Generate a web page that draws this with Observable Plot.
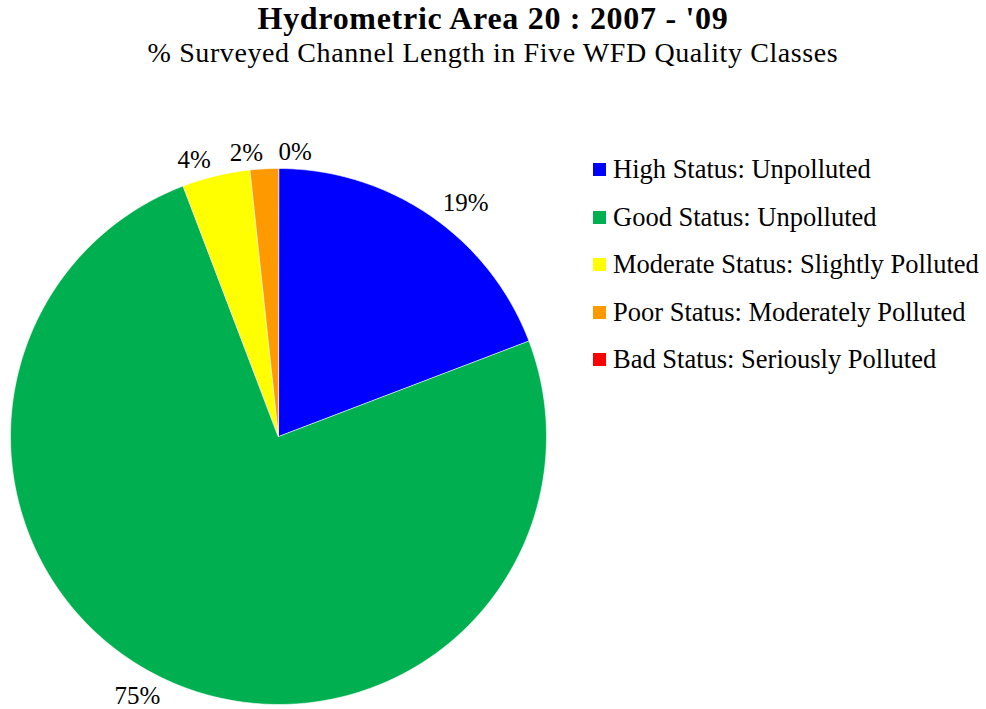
<!DOCTYPE html>
<html>
<head>
<meta charset="utf-8">
<script src="https://cdn.jsdelivr.net/npm/d3@7"></script>
<script src="https://cdn.jsdelivr.net/npm/@observablehq/plot@0.6"></script>
<style>
  html, body { margin: 0; padding: 0; background: #fff; }
  #wrap { position: relative; width: 986px; height: 709px; font-family: "Liberation Serif", "Times New Roman", serif; color: #000; overflow: hidden; }
  #title { position: absolute; left: 0; width: 986px; top: 2px; text-align: center; font-weight: bold; font-size: 32px; line-height: 32px; letter-spacing: 0.7px; white-space: nowrap; }
  #subtitle { position: absolute; left: 0; width: 986px; top: 39px; text-align: center; font-size: 28px; line-height: 28px; letter-spacing: 0.6px; white-space: nowrap; }
  #legend { position: absolute; left: 593px; top: 156px; font-size: 26.5px; line-height: 26.5px; }
  .row { height: 47.6px; display: flex; align-items: flex-start; white-space: nowrap; }
  .sw { width: 13px; height: 13px; margin-right: 7px; margin-top: 7px; }
  #chart { position: absolute; left: 0; top: 0; }
</style>
</head>
<body>
<div id="wrap">
  <div id="chart"></div>
  <div id="title">Hydrometric Area 20 : 2007 - '09</div>
  <div id="subtitle">% Surveyed Channel Length in Five WFD Quality Classes</div>
  <div id="legend"></div>
</div>
<script>
const categories = [
  "High Status: Unpolluted",
  "Good Status: Unpolluted",
  "Moderate Status: Slightly Polluted",
  "Poor Status: Moderately Polluted",
  "Bad Status: Seriously Polluted"
];
const values = [19.2, 75.0, 4.1, 1.7, 0.0];
const colors = ["#0000ff", "#00b050", "#ffff00", "#ff9900", "#ff0000"];

// pie angles (clockwise from top) from d3.pie
const arcs = d3.pie().sort(null).value(d => d)(values);
const polys = [];
const labels = [];
arcs.forEach((a, i) => {
  const n = Math.max(2, Math.ceil((a.endAngle - a.startAngle) / 0.01));
  polys.push({cat: categories[i], x: 0, y: 0});
  for (let k = 0; k <= n; k++) {
    const t = a.startAngle + (a.endAngle - a.startAngle) * k / n;
    polys.push({cat: categories[i], x: Math.sin(t), y: Math.cos(t)});
  }
  const m = (a.startAngle + a.endAngle) / 2;
  labels.push({
    cat: categories[i],
    text: Math.round(values[i]) + "%",
    x: 1.08 * Math.sin(m),
    y: 1.06 * Math.cos(m),
    right: Math.sin(m) >= -1e-9
  });
});

const plot = Plot.plot({
  width: 986,
  height: 709,
  margin: 0,
  x: {domain: [-1, 1], range: [10, 546], axis: null},
  y: {domain: [-1, 1], range: [704, 168], axis: null},
  color: {domain: categories, range: colors},
  style: {background: "transparent"},
  marks: [
    Plot.line(polys.filter(d => values[categories.indexOf(d.cat)] > 0), {
      x: "x", y: "y", z: "cat", fill: "cat", stroke: "#fff", strokeWidth: 0.6, curve: "linear-closed"
    }),
    Plot.text(labels.filter(d => d.right), {
      x: "x", y: "y", text: "text", textAnchor: "start",
      fontSize: 25, fontFamily: "Liberation Serif, serif", fill: "#000"
    }),
    Plot.text(labels.filter(d => !d.right), {
      x: "x", y: "y", text: "text", textAnchor: "end",
      fontSize: 25, fontFamily: "Liberation Serif, serif", fill: "#000"
    })
  ]
});
document.getElementById("chart").appendChild(plot);

const legend = document.getElementById("legend");
categories.forEach((c, i) => {
  const row = document.createElement("div");
  row.className = "row";
  const sw = document.createElement("div");
  sw.className = "sw";
  sw.style.background = colors[i];
  const lab = document.createElement("span");
  lab.textContent = c;
  row.appendChild(sw);
  row.appendChild(lab);
  legend.appendChild(row);
});
</script>
</body>
</html>
